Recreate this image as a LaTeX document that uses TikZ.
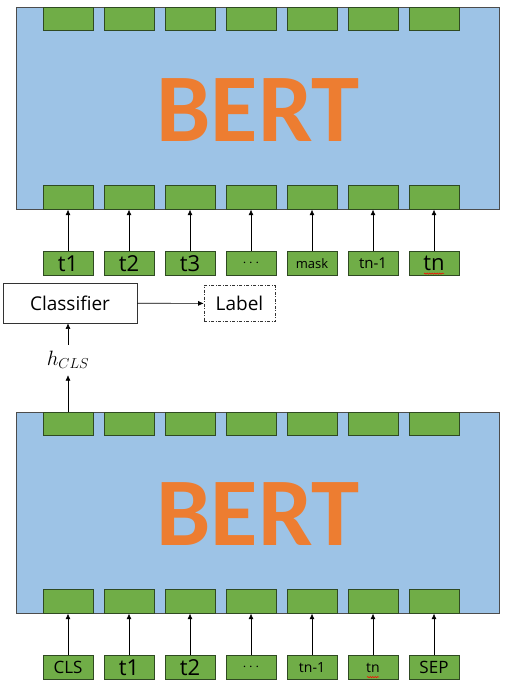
\documentclass[tikz,border=0pt]{standalone}
\usepackage{fontspec}
\setmainfont{Open Sans}
\newfontfamily\bertfont{Carlito}
\usetikzlibrary{arrows.meta}
\usetikzlibrary{positioning}
\usetikzlibrary{decorations.pathmorphing}

\definecolor{bertblue}{HTML}{9DC3E6}
\definecolor{bertorange}{HTML}{ED7D31}
\definecolor{tokgreen}{HTML}{70AD47}
\definecolor{tokedge}{HTML}{2F4A22}

\begin{document}
\begin{tikzpicture}[x=1pt, y=-1pt,
    encoder/.style={draw=black!70, fill=bertblue, line width=0.8pt, minimum width=483pt, minimum height=202pt, inner sep=0pt},
    bertname/.style={text=bertorange, font=\bertfont\bfseries\fontsize{97}{97}\selectfont, inner sep=0pt},
    cell/.style={draw=tokedge, fill=tokgreen, line width=0.8pt, minimum width=50pt, minimum height=23.5pt, inner sep=0pt},
    up/.style={-{Latex[length=5.5pt,width=5pt]}, line width=0.6pt},
    plainbox/.style={draw=black!80, line width=0.7pt, inner sep=0pt, font=\fontsize{19}{19}\selectfont},
    typo/.style={red, line width=0.5pt, decorate, decoration={snake, amplitude=0.6pt, segment length=2.5pt}}]

    \useasboundingbox (0,0) rectangle (504,690);

    % Draw upper BERT
    \node [encoder] (bertA) at (257.5,108) {};
    \node [bertname] (nameA) at (258,110) {BERT};

    \foreach \i/\tok/\sz in {1/t1/22, 2/t2/22, 3/t3/22, 4/{$\cdots$}/14, 5/mask/13, 6/tn-1/15, 7/tn/22} {
        \node [cell] (ta\i) at ({68+61*(\i-1)},19) {};
        \node [cell] (tb\i) at ({68+61*(\i-1)},197.5) {};
        \node [cell, font=\fontsize{\sz}{\sz}\selectfont] (tin\i) at ({68+61*(\i-1)},263.5) {\tok};
        \draw [up] (tin\i) -- (tb\i);
    }
    \draw [typo] ([xshift=-10pt,yshift=2pt]tin7.south) -- ([xshift=10pt,yshift=2pt]tin7.south);

    % Draw classifier
    \node [plainbox, minimum width=134pt, minimum height=40pt] (cls) at (70,303) {Classifier};
    \node [plainbox, dash pattern=on 3pt off 1.5pt on 1pt off 1.5pt, minimum width=71pt, minimum height=36pt] (lab) at (239.5,303.5) {Label};
    \draw [up] (cls) -- (lab);

    % Draw lower BERT
    \node [encoder, minimum height=201pt] (bertB) at (257.5,512.5) {};
    \node [bertname] (nameB) at (258,514) {BERT};

    \foreach \i/\tok/\sz in {1/CLS/17, 2/t1/22, 3/t2/22, 4/{$\cdots$}/14, 5/tn-1/14, 6/tn/14, 7/SEP/17} {
        \node [cell] (ua\i) at ({68+61*(\i-1)},424) {};
        \node [cell] (ub\i) at ({68+61*(\i-1)},601.5) {};
        \node [cell, font=\fontsize{\sz}{\sz}\selectfont] (uin\i) at ({68+61*(\i-1)},667.5) {\tok};
        \draw [up] (uin\i) -- (ub\i);
    }
    \draw [typo] ([xshift=-6pt,yshift=2.5pt]uin6.south) -- ([xshift=6pt,yshift=2.5pt]uin6.south);

    % Draw h_CLS
    \node [inner sep=0pt, minimum height=30pt, font=\fontsize{20}{20}\selectfont] (hcls) at (68,360) {$h_{CLS}$};
    \draw [up] (ua1) -- (hcls);
    \draw [up] (hcls) -- (hcls |- cls.south);

\end{tikzpicture}
\end{document}
